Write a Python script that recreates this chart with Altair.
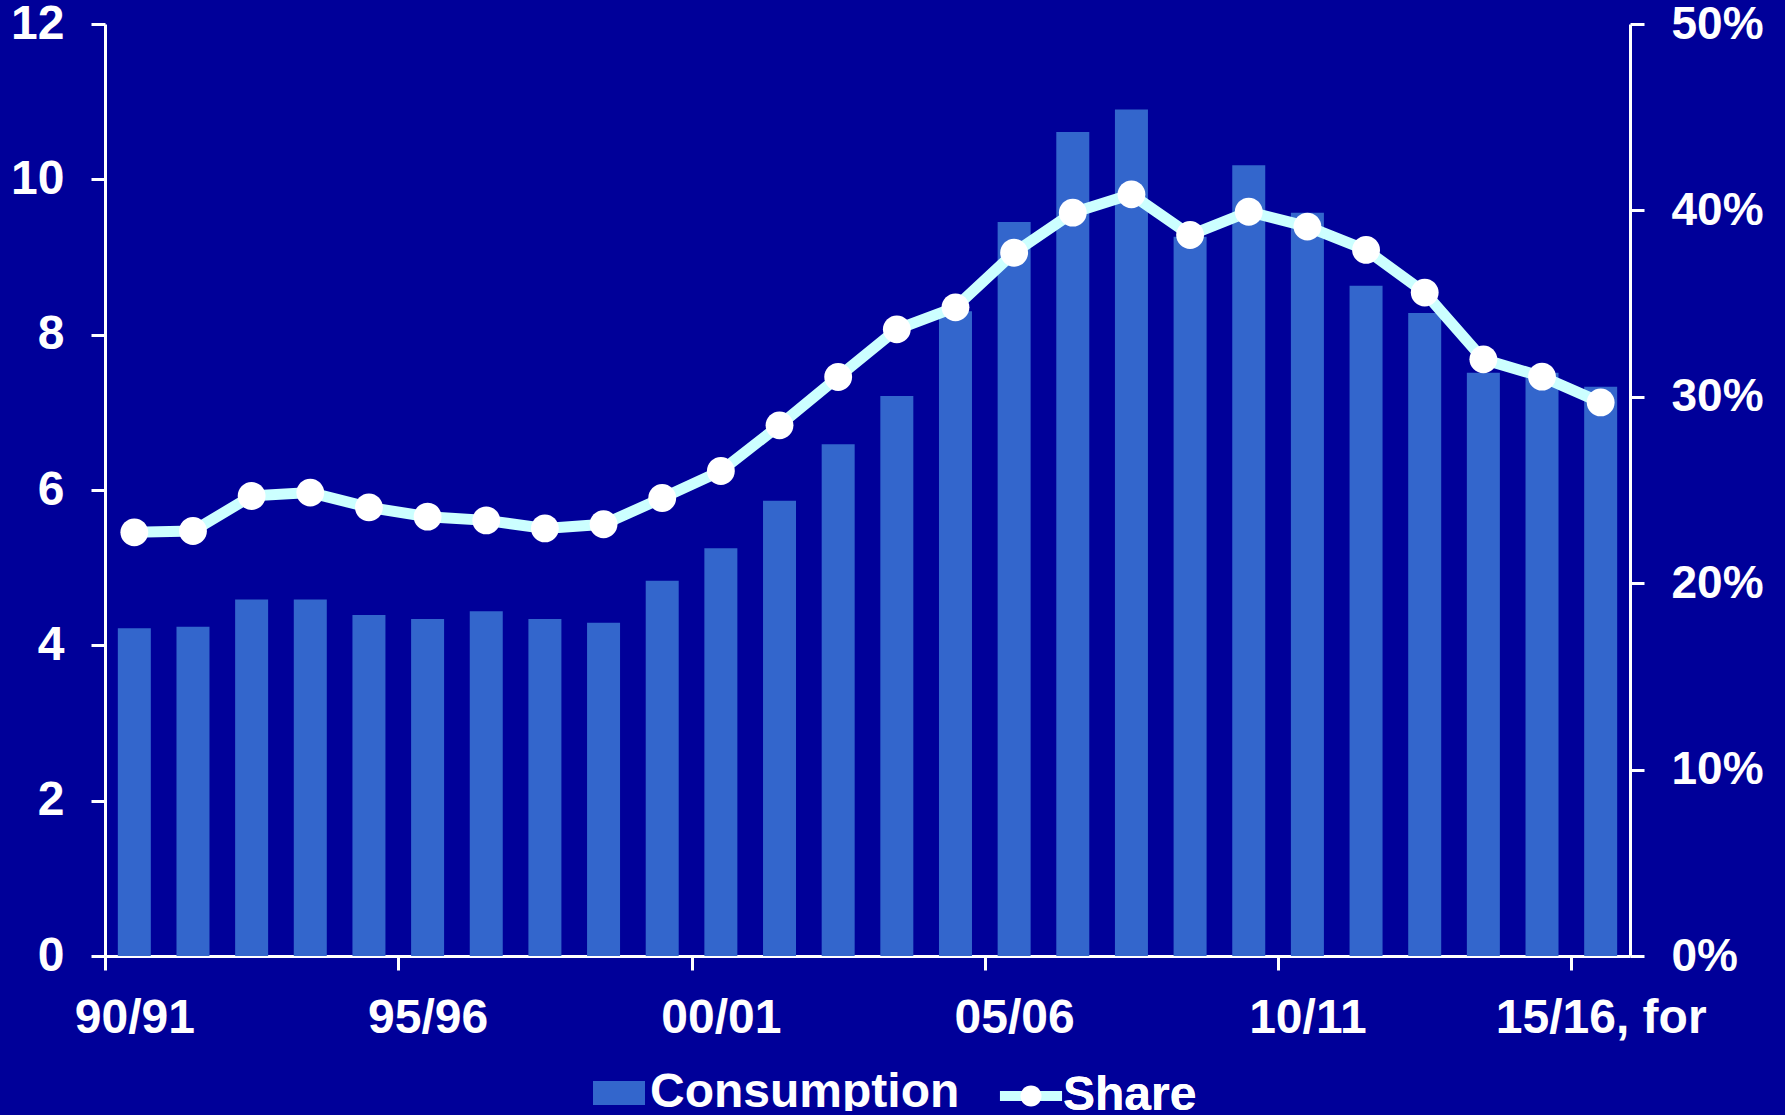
import altair as alt
import pandas as pd

years = ["90/91", "91/92", "92/93", "93/94", "94/95", "95/96", "96/97", "97/98",
         "98/99", "99/00", "00/01", "01/02", "02/03", "03/04", "04/05", "05/06",
         "06/07", "07/08", "08/09", "09/10", "10/11", "11/12", "12/13", "13/14",
         "14/15", "15/16, for"]
consumption = [4.22, 4.24, 4.59, 4.59, 4.39, 4.34, 4.44, 4.34, 4.29, 4.83,
               5.25, 5.86, 6.59, 7.21, 8.30, 9.45, 10.61, 10.90, 9.26, 10.18,
               9.57, 8.63, 8.28, 7.51, 7.51, 7.33]
share = [0.2273, 0.2280, 0.2468, 0.2486, 0.2407, 0.2357, 0.2337, 0.2294, 0.2316, 0.2457,
         0.2602, 0.2847, 0.3106, 0.3362, 0.3480, 0.3773, 0.3988, 0.4086, 0.3868, 0.3993,
         0.3913, 0.3788, 0.3559, 0.3201, 0.3108, 0.2970]
tick_years = ["90/91", "95/96", "00/01", "05/06", "10/11", "15/16, for"]
left_ticks = [0, 2, 4, 6, 8, 10, 12]
right_ticks = [0, 0.1, 0.2, 0.3, 0.4, 0.5]

df = pd.DataFrame({"year": years, "consumption": consumption, "share": share})

FONT = "Liberation Sans"
BG = "#000099"
BAR = "#3366CC"
LINE = "#CCFFFF"

PLOT_W = 1525
PLOT_H = 932
HALF_BAND = PLOT_W / len(years) / 2

x_enc = alt.X(
    "year:N", sort=years, title=None,
    scale=alt.Scale(paddingInner=0, paddingOuter=0),
    axis=alt.Axis(values=tick_years, labelAngle=0,
                  tickOffset=-HALF_BAND, labelOffset=HALF_BAND,
                  labelFontSize=48, labelPadding=24, labelFlush=False,
                  labelOverlap=False, labelLimit=0),
)

bars = alt.Chart(df).transform_calculate(s1="'Consumption'").mark_bar(size=33).encode(
    x=x_enc,
    y=alt.Y("consumption:Q", title=None,
            scale=alt.Scale(domain=[0, 12], nice=False, zero=True),
            axis=alt.Axis(values=left_ticks, orient="left", labelFontSize=48,
                          labelPadding=27)),
    fill=alt.Fill("s1:N", scale=alt.Scale(domain=["Consumption"], range=[BAR]),
                  legend=alt.Legend(title=None, orient="none", legendX=488, legendY=1043,
                                    symbolType="M-1,-0.46L1,-0.46L1,0.46L-1,0.46Z",
                                    symbolSize=2704, symbolStrokeWidth=0,
                                    labelOffset=5)),
)

y_share = alt.Y("share:Q", title=None,
                scale=alt.Scale(domain=[0, 0.5], nice=False, zero=True),
                axis=alt.Axis(values=right_ticks, orient="right", format=".0%",
                              labelFontSize=46, labelPadding=27))

# point marker: circle in the symbol's unit space
circle_path = "M-0.39,0A0.39,0.39 0 1,0 0.39,0A0.39,0.39 0 1,0 -0.39,0Z"
legend_circle = "M-0.5,0A0.5,0.5 0 1,0 0.5,0A0.5,0.5 0 1,0 -0.5,0Z"
legend_line = "M-1.15,0L1.15,0"

line = alt.Chart(df).transform_calculate(s2="'Share'").mark_line(strokeWidth=11).encode(
    x=x_enc,
    y=y_share,
    stroke=alt.Stroke("s2:N", scale=alt.Scale(domain=["Share"], range=[LINE]),
                      legend=alt.Legend(title=None, orient="none", legendX=894, legendY=1040,
                                        symbolType=legend_line, symbolSize=2916,
                                        symbolStrokeWidth=10, symbolFillColor="transparent",
                                        labelOffset=0, zindex=1)),
)

points = alt.Chart(df).transform_calculate(s3="'Share '").mark_point(
    filled=True, color="white", opacity=1, size=5100
).encode(
    x=x_enc,
    y=y_share,
    shape=alt.Shape("s3:N", scale=alt.Scale(domain=["Share "], range=[circle_path]),
                    legend=alt.Legend(title=None, orient="none", legendX=894, legendY=1040,
                                      symbolType=legend_circle, symbolSize=2916,
                                      symbolFillColor="white",
                                      symbolStrokeColor="transparent", symbolStrokeWidth=10,
                                      labelOffset=0, zindex=2)),
)

chart = alt.layer(bars, alt.layer(line, points)).resolve_scale(
    y="independent"
).properties(
    width=PLOT_W, height=PLOT_H,
    background=BG,
    autosize=alt.AutoSizeParams(type="none"),
    padding={"left": 105, "top": 24, "right": 150, "bottom": 155},
).configure_view(
    stroke=None,
).configure_axis(
    grid=False,
    domainColor="white", domainWidth=3,
    tickColor="white", tickWidth=3, tickSize=14,
    labelColor="white", labelFont=FONT, labelFontWeight="bold",
).configure_legend(
    labelColor="white", labelFont=FONT, labelFontWeight="bold", labelFontSize=48,
    labelLimit=0, padding=0,
)

chart.save("out.html", embed_options={
    "renderer": "svg", "actions": False,
    "defaultStyle": "html,body{margin:0;padding:0;background:#000099;overflow:hidden;}",
})
